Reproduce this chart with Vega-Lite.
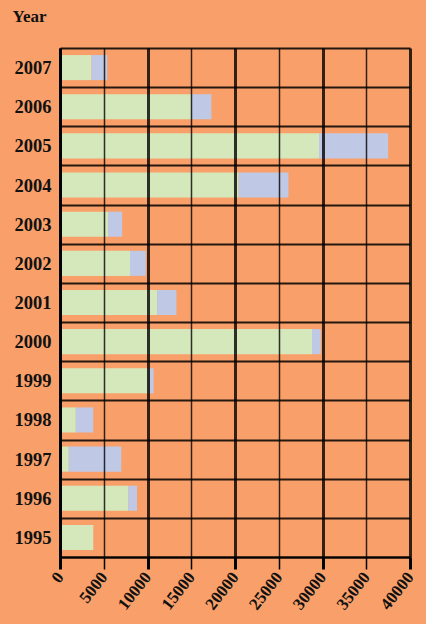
{
  "$schema": "https://vega.github.io/schema/vega-lite/v6.json",
  "width": 350,
  "height": 509,
  "autosize": {"type": "none"},
  "padding": {"left": 60, "top": 48, "right": 16, "bottom": 67},
  "background": "#f9a06a",
  "config": {"view": {"stroke": null}, "font": "Liberation Serif"},
  "data": {
    "values": [
      {"Year": 2007, "series": "a", "value": 3600, "ord": 1},
      {"Year": 2007, "series": "b", "value": 1800, "ord": 2},
      {"Year": 2006, "series": "a", "value": 15000, "ord": 1},
      {"Year": 2006, "series": "b", "value": 2300, "ord": 2},
      {"Year": 2005, "series": "a", "value": 29600, "ord": 1},
      {"Year": 2005, "series": "b", "value": 7900, "ord": 2},
      {"Year": 2004, "series": "a", "value": 20400, "ord": 1},
      {"Year": 2004, "series": "b", "value": 5700, "ord": 2},
      {"Year": 2003, "series": "a", "value": 5500, "ord": 1},
      {"Year": 2003, "series": "b", "value": 1600, "ord": 2},
      {"Year": 2002, "series": "a", "value": 8000, "ord": 1},
      {"Year": 2002, "series": "b", "value": 1800, "ord": 2},
      {"Year": 2001, "series": "a", "value": 11100, "ord": 1},
      {"Year": 2001, "series": "b", "value": 2200, "ord": 2},
      {"Year": 2000, "series": "a", "value": 28800, "ord": 1},
      {"Year": 2000, "series": "b", "value": 1000, "ord": 2},
      {"Year": 1999, "series": "a", "value": 10100, "ord": 1},
      {"Year": 1999, "series": "b", "value": 600, "ord": 2},
      {"Year": 1998, "series": "a", "value": 1800, "ord": 1},
      {"Year": 1998, "series": "b", "value": 2000, "ord": 2},
      {"Year": 1997, "series": "a", "value": 1000, "ord": 1},
      {"Year": 1997, "series": "b", "value": 6000, "ord": 2},
      {"Year": 1996, "series": "a", "value": 7800, "ord": 1},
      {"Year": 1996, "series": "b", "value": 1000, "ord": 2},
      {"Year": 1995, "series": "a", "value": 3800, "ord": 1},
      {"Year": 1995, "series": "b", "value": 0, "ord": 2}
    ]
  },
  "mark": {"type": "bar", "height": {"band": 0.64}},
  "encoding": {
    "y": {
      "field": "Year",
      "type": "ordinal",
      "sort": "descending",
      "scale": {"paddingInner": 0, "paddingOuter": 0},
      "axis": {
        "title": "Year",
        "titleAngle": 0,
        "titleX": -48,
        "titleY": -27,
        "titleAlign": "left",
        "titleBaseline": "alphabetic",
        "titleFontSize": 17,
        "titleFontWeight": "bold",
        "titleColor": "#111",
        "labelFontSize": 18.5,
        "labelFontWeight": "bold",
        "labelColor": "#111",
        "labelPadding": 9,
        "ticks": false,
        "tickBand": "extent",
        "grid": true,
        "gridColor": "#000",
        "gridWidth": 2,
        "gridOpacity": 0.85,
        "domainColor": "#000",
        "domainWidth": 3,
        "zindex": 1
      }
    },
    "x": {
      "field": "value",
      "type": "quantitative",
      "stack": "zero",
      "scale": {"domain": [0, 40000], "nice": false},
      "axis": {
        "title": null,
        "values": [0, 5000, 10000, 15000, 20000, 25000, 30000, 35000, 40000],
        "format": "d",
        "labelAngle": -52,
        "labelAlign": "right",
        "labelBaseline": "middle",
        "labelFontSize": 17,
        "labelFontWeight": "bold",
        "labelColor": "#111",
        "labelPadding": 5,
        "grid": true,
        "gridColor": "#000",
        "gridOpacity": 0.8,
        "gridWidth": {"condition": {"test": "datum.value % 10000 === 0", "value": 3}, "value": 1.5},
        "tickWidth": {"condition": {"test": "datum.value % 10000 === 0", "value": 3}, "value": 1.5},
        "tickSize": 12,
        "tickColor": "#000",
        "domainColor": "#000",
        "domainWidth": 2,
        "zindex": 1
      }
    },
    "color": {
      "field": "series",
      "type": "nominal",
      "scale": {"domain": ["a", "b"], "range": ["#d5e8bb", "#bfc9e6"]},
      "legend": null
    },
    "order": {"field": "ord", "type": "quantitative"}
  }
}
